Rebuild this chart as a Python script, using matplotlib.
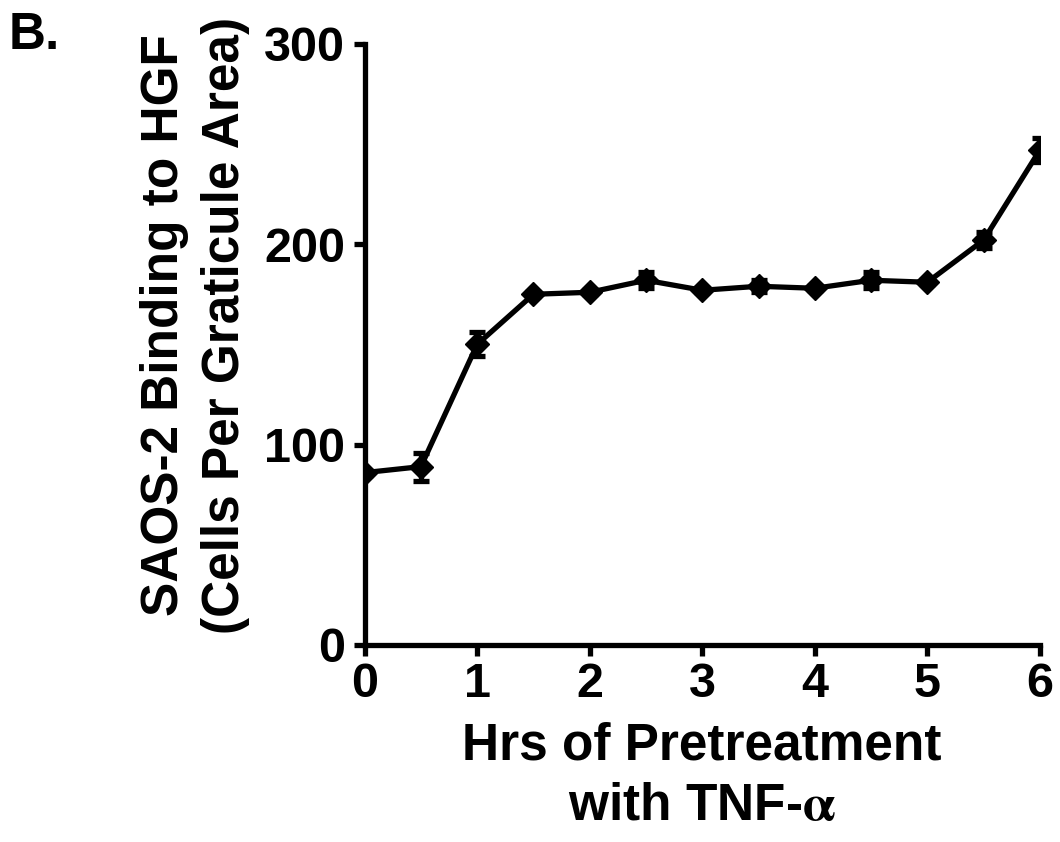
import matplotlib
matplotlib.use("Agg")
import matplotlib.pyplot as plt

hours = [0, 0.5, 1, 1.5, 2, 2.5, 3, 3.5, 4, 4.5, 5, 5.5, 6]
binding = [86, 89, 150, 175, 176, 182, 177, 179, 178, 182, 181, 202, 247]
err = [1, 7, 6, 1, 1, 4, 1, 3, 1, 4, 1, 4, 6]

plt.rcParams["font.family"] = ["Liberation Sans", "DejaVu Sans"]
plt.rcParams["font.weight"] = "bold"
plt.rcParams["mathtext.fontset"] = "stix"

fig = plt.figure(figsize=(10.6, 8.42), dpi=100)
ax = fig.add_axes([0.344, 0.234, 0.637, 0.714])

ax.errorbar(hours, binding, yerr=err, color="black", lw=3.8, marker="D",
            markersize=12, capsize=6, capthick=3.8, elinewidth=3.8)

ax.set_xlim(0, 6)
ax.set_ylim(0, 300)
ax.set_xticks(range(7))
ax.set_yticks([0, 100, 200, 300])
for side in ["top", "right"]:
    ax.spines[side].set_visible(False)
for side in ["left", "bottom"]:
    ax.spines[side].set_linewidth(3.8)
ax.tick_params(direction="out", length=8, width=3.8, labelsize=35)
ax.tick_params(axis="x", pad=4)
ax.tick_params(axis="y", pad=6)
for lab in ax.get_xticklabels() + ax.get_yticklabels():
    lab.set_fontweight("bold")

ax.set_xlabel("Hrs of Pretreatment\nwith TNF-$\\mathrm{\\alpha}$", fontsize=37,
              fontweight="bold", linespacing=1.3)
ax.xaxis.set_label_coords(0.5, -0.128)
ax.xaxis.label.set_va("top")
ax.set_ylabel("SAOS-2 Binding to HGF\n(Cells Per Graticule Area)", fontsize=37,
              fontweight="bold", linespacing=1.3)
ax.yaxis.set_label_coords(-0.17, 0.532)

fig.text(0.008, 0.958, "B.", fontsize=37, fontweight="bold", va="center")

fig.savefig("out.png", dpi=100)
